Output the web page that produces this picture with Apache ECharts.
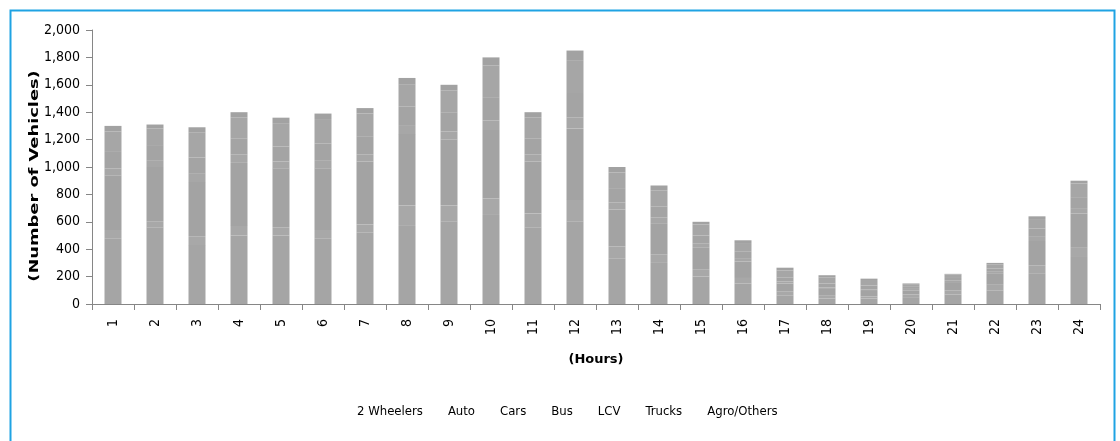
<!DOCTYPE html>
<html>
<head>
<meta charset="utf-8">
<script src="https://cdn.jsdelivr.net/npm/echarts@6/dist/echarts.min.js"></script>
<style>
  html, body { margin: 0; padding: 0; background: #ffffff; }
  #chart { width: 1120px; height: 441px; }
</style>
</head>
<body>
<div id="chart"></div>
<script>
// Hourly vehicle counts by vehicle class (stacked)
const hours = ['1','2','3','4','5','6','7','8','9','10','11','12','13','14','15','16','17','18','19','20','21','22','23','24'];

const twoWheelers = [480,560,430,500,500,480,520,570,600,650,560,600,330,300,200,150,60,40,40,50,70,100,220,350];
const auto        = [60,40,60,70,60,60,60,150,120,120,100,160,90,60,50,40,30,20,15,20,30,40,60,60];
const cars        = [400,400,400,460,430,450,460,520,480,500,380,520,270,230,160,120,60,50,40,30,60,80,180,250];
const bus         = [50,50,60,60,50,60,50,60,60,70,50,80,50,40,30,25,15,10,10,10,10,15,30,40];
const lcv         = [120,110,120,120,110,120,130,140,140,170,120,180,100,80,60,50,30,30,30,15,20,25,60,80];
const trucks      = [150,120,180,150,170,180,170,160,160,230,150,240,120,120,80,60,50,45,40,20,25,30,70,100];
const agroOthers  = [40,30,40,40,40,40,40,50,40,60,40,70,40,35,20,20,20,15,10,5,5,10,20,20];

const seriesNames = ['2 Wheelers','Auto','Cars','Bus','LCV','Trucks','Agro/Others'];
const seriesData = [twoWheelers, auto, cars, bus, lcv, trucks, agroOthers];
const seriesColors = ['#a5a5a5','#a8a8a8','#a3a3a3','#a7a7a7','#a4a4a4','#a6a6a6','#a2a2a2'];

const COND = '"DejaVu Sans Condensed", "DejaVu Sans", sans-serif';
const BOLD = '"DejaVu Sans", sans-serif';

const chart = echarts.init(document.getElementById('chart'), null, { renderer: 'canvas' });

chart.setOption({
  backgroundColor: '#ffffff',
  animation: false,
  graphic: [
    {
      type: 'rect',
      left: 8, top: 8,
      shape: { width: 1104, height: 445 },
      style: { fill: 'none', stroke: '#1fa3e3', lineWidth: 2 },
      silent: true
    },
    {
      // vertical axis title, stretched along its length
      type: 'text',
      x: 35, y: 176,
      rotation: Math.PI / 2,
      scaleX: 1.37,
      style: {
        text: '(Number of Vehicles)',
        font: 'bold 13px ' + BOLD,
        fill: '#000',
        align: 'center',
        verticalAlign: 'middle'
      },
      silent: true
    }
  ],
  grid: { left: 92, right: 20, top: 30, bottom: 137, containLabel: false },
  legend: {
    data: seriesNames,
    bottom: 18,
    left: 347,
    icon: 'none',
    itemWidth: 0,
    itemGap: 20,
    textStyle: { fontFamily: COND, fontSize: 13, color: '#000' },
    selectedMode: false
  },
  xAxis: {
    type: 'category',
    data: hours,
    boundaryGap: true,
    name: '(Hours)',
    nameLocation: 'middle',
    nameGap: 49,
    nameTextStyle: { fontFamily: BOLD, fontSize: 13, fontWeight: 'bold', color: '#000' },
    axisLine: { lineStyle: { color: '#868686', width: 1 } },
    axisTick: { show: true, alignWithLabel: false, length: 6, lineStyle: { color: '#868686' } },
    axisLabel: { rotate: 90, fontFamily: COND, fontSize: 14, color: '#000', margin: 15 }
  },
  yAxis: {
    type: 'value',
    min: 0, max: 2000, interval: 200,
    axisLine: { show: true, lineStyle: { color: '#868686', width: 1 } },
    axisTick: { show: true, length: 6, lineStyle: { color: '#868686' } },
    splitLine: { show: false },
    axisLabel: {
      fontFamily: COND, fontSize: 14, color: '#000', margin: 12,
      formatter: v => v.toLocaleString('en-US')
    }
  },
  series: seriesNames.map((name, i) => ({
    name,
    type: 'bar',
    stack: 'vehicles',
    barWidth: 17,
    data: seriesData[i],
    itemStyle: { color: seriesColors[i] }
  }))
});
</script>
</body>
</html>
